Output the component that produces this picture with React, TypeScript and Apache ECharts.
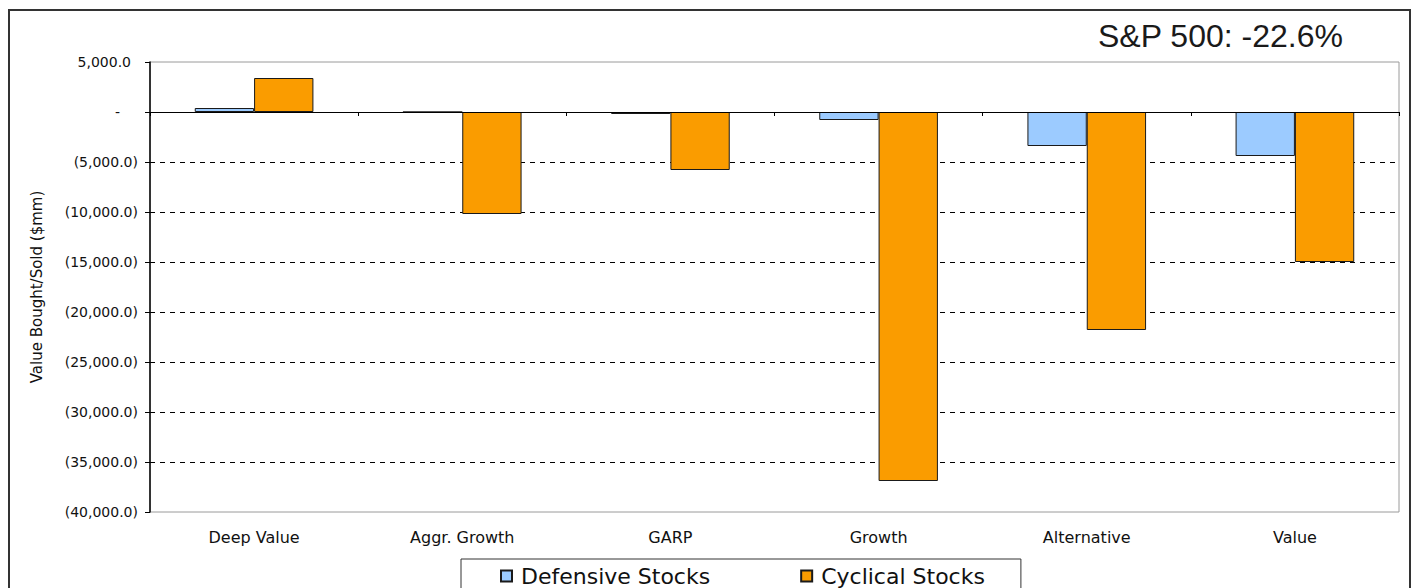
import React, { useEffect, useRef } from "react";
import * as echarts from "echarts";

const categories = ["Deep Value", "Aggr. Growth", "GARP", "Growth", "Alternative", "Value"];
const defensiveValues = [400, 0, -200, -800, -3400, -4400];
const cyclicalValues = [3400, -10200, -5800, -36900, -21800, -15000];
const seriesNames = ["Defensive Stocks", "Cyclical Stocks"];
const titleText = "S&P 500: -22.6%";
const yAxisName = "Value Bought/Sold ($mm)";

const AXIS_FONT = "DejaVu Sans";

function fmt(v: number): string {
  const s = Math.abs(v).toLocaleString("en-US", { minimumFractionDigits: 1, maximumFractionDigits: 1 });
  if (v > 0) return `{pos|${s}}`;
  if (v === 0) return "{zero|-}";
  return `{neg|(${s})}`;
}

export default function App() {
  const ref = useRef<HTMLDivElement>(null);
  useEffect(() => {
    if (!ref.current) return;
    const chart = echarts.init(ref.current, null, { renderer: "svg" });
    const labelStyle = { fontFamily: AXIS_FONT, fontSize: 14, color: "#111" };
    chart.setOption({
      animation: false,
      backgroundColor: "#fff",
      title: {
        text: titleText,
        left: 1093,
        top: 15,
        textStyle: { fontFamily: "Liberation Sans", fontSize: 32, fontWeight: "normal", color: "#1a1a1a" },
      },
      graphic: [
        {
          type: "rect",
          shape: { x: 9, y: 10, width: 1401, height: 620 },
          style: { fill: "none", stroke: "#333", lineWidth: 2 },
          silent: true,
        },
      ],
      legend: {
        left: 461,
        top: 559,
        data: seriesNames,
        icon: "rect",
        itemWidth: 11,
        itemHeight: 11,
        itemGap: 90,
        padding: [6, 36, 12, 39],
        borderColor: "#333",
        borderWidth: 1,
        backgroundColor: "#fff",
        textStyle: { fontFamily: AXIS_FONT, fontSize: 22, color: "#111", padding: [0, 0, 0, 4] },
      },
      grid: {
        left: 150,
        right: 15,
        top: 62,
        bottom: 76,
        show: true,
        borderColor: "#9a9a9a",
        borderWidth: 1,
        backgroundColor: "transparent",
      },
      xAxis: [
        {
          type: "category",
          data: categories,
          axisLine: { onZero: true, lineStyle: { color: "#000", width: 1 } },
          axisTick: { show: true, length: 4, lineStyle: { color: "#000" } },
          axisLabel: { show: false },
          splitLine: { show: false },
          z: 5,
        },
        {
          type: "category",
          data: categories,
          position: "bottom",
          axisLine: { show: false, onZero: false },
          axisTick: { show: false },
          axisLabel: { margin: 17, fontFamily: AXIS_FONT, fontSize: 16, color: "#111" },
          splitLine: { show: false },
        },
      ],
      yAxis: {
        type: "value",
        min: -40000,
        max: 5000,
        interval: 5000,
        name: yAxisName,
        nameLocation: "middle",
        nameRotate: 90,
        nameGap: 106,
        nameTextStyle: { fontFamily: AXIS_FONT, fontSize: 15, color: "#111" },
        axisLine: { show: true, lineStyle: { color: "#000", width: 1.5 } },
        axisTick: { show: true, length: 5, lineStyle: { color: "#000" } },
        axisLabel: {
          margin: 12,
          formatter: fmt,
          ...labelStyle,
          rich: {
            pos: { ...labelStyle, padding: [0, 7, 0, 0] },
            zero: { ...labelStyle, padding: [0, 18, 0, 0] },
            neg: { ...labelStyle },
          },
        },
        splitLine: {
          show: true,
          lineStyle: {
            color: ["transparent", "#000", "#000", "#000", "#000", "#000", "#000", "#000", "transparent", "transparent"],
            type: [5, 5],
            width: 1,
          },
        },
      },
      series: [
        {
          name: seriesNames[0],
          type: "bar",
          data: defensiveValues,
          barGap: "0%",
          barCategoryGap: "43%",
          itemStyle: { color: "#9ccbff", borderColor: "#1a1a1a", borderWidth: 1 },
        },
        {
          name: seriesNames[1],
          type: "bar",
          data: cyclicalValues,
          barGap: "0%",
          barCategoryGap: "43%",
          itemStyle: { color: "#fa9c00", borderColor: "#1a1a1a", borderWidth: 1 },
        },
      ],
    });
    return () => chart.dispose();
  }, []);
  return <div ref={ref} style={{ position: "fixed", left: 0, top: 0, width: 1414, height: 588 }} />;
}
